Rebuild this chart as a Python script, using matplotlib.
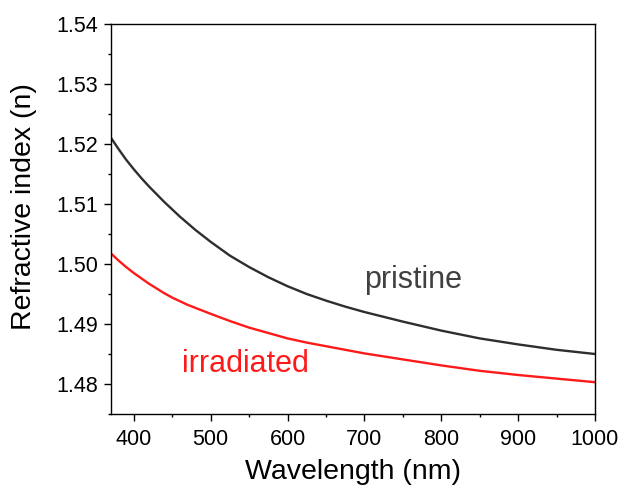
import matplotlib
matplotlib.use("Agg")
import matplotlib.pyplot as plt
from matplotlib.ticker import MultipleLocator, FormatStrFormatter

plt.rcParams['font.family'] = ['Liberation Sans', 'DejaVu Sans']

# wavelength grid (nm) and refractive index
wavelength = [370, 380, 390, 400, 410, 420, 430, 440, 450, 460, 470, 480, 490, 500,
              525, 550, 575, 600, 625, 650, 675, 700, 750, 800, 850, 900, 950, 1000]
n_pristine = [1.5211, 1.5192, 1.5174, 1.5158, 1.5143, 1.5129, 1.5116, 1.5103, 1.5091, 1.5079,
              1.5068, 1.5057, 1.5047, 1.5037, 1.5014, 1.4995, 1.4978, 1.4963, 1.4950, 1.4939,
              1.4929, 1.4920, 1.4904, 1.4889, 1.4876, 1.4866, 1.4857, 1.4850]
n_irradiated = [1.5018, 1.5006, 1.4995, 1.4985, 1.4976, 1.4967, 1.4959, 1.4951, 1.4944, 1.4938,
                1.4932, 1.4927, 1.4922, 1.4917, 1.4905, 1.4894, 1.4885, 1.4876, 1.4869, 1.4863,
                1.4857, 1.4851, 1.4841, 1.4831, 1.4822, 1.4815, 1.4809, 1.4803]

fig = plt.figure(figsize=(6.24, 4.87), dpi=100)
ax = fig.add_axes([0.1774, 0.1499, 0.7761, 0.8008])

ax.plot(wavelength, n_pristine, color='#2e2e2e', lw=1.7)
ax.plot(wavelength, n_irradiated, color='#ff1a1a', lw=1.7)

ax.text(699, 1.4960, 'pristine', color='#404040', fontsize=22, ha='left', va='baseline')
ax.text(463, 1.4820, 'irradiated', color='#ff1a1a', fontsize=22, ha='left', va='baseline')

ax.set_xlim(370, 1000)
ax.set_ylim(1.475, 1.54)
ax.xaxis.set_major_locator(MultipleLocator(100))
ax.xaxis.set_minor_locator(MultipleLocator(50))
ax.yaxis.set_major_locator(MultipleLocator(0.01))
ax.yaxis.set_minor_locator(MultipleLocator(0.005))
ax.yaxis.set_major_formatter(FormatStrFormatter('%.2f'))

ax.tick_params(which='major', direction='out', length=5, width=1, labelsize=15.5, pad=4)
ax.tick_params(which='minor', direction='out', length=2.5, width=1)
ax.tick_params(axis='x', which='major', pad=6)
for s in ax.spines.values():
    s.set_linewidth(1)

ax.set_xlabel('Wavelength (nm)', fontsize=20.5, labelpad=6)
ax.set_ylabel('Refractive index (n)', fontsize=20.5)
ax.yaxis.set_label_coords(-0.152, 0.532)

fig.savefig('out.png', dpi=100)
